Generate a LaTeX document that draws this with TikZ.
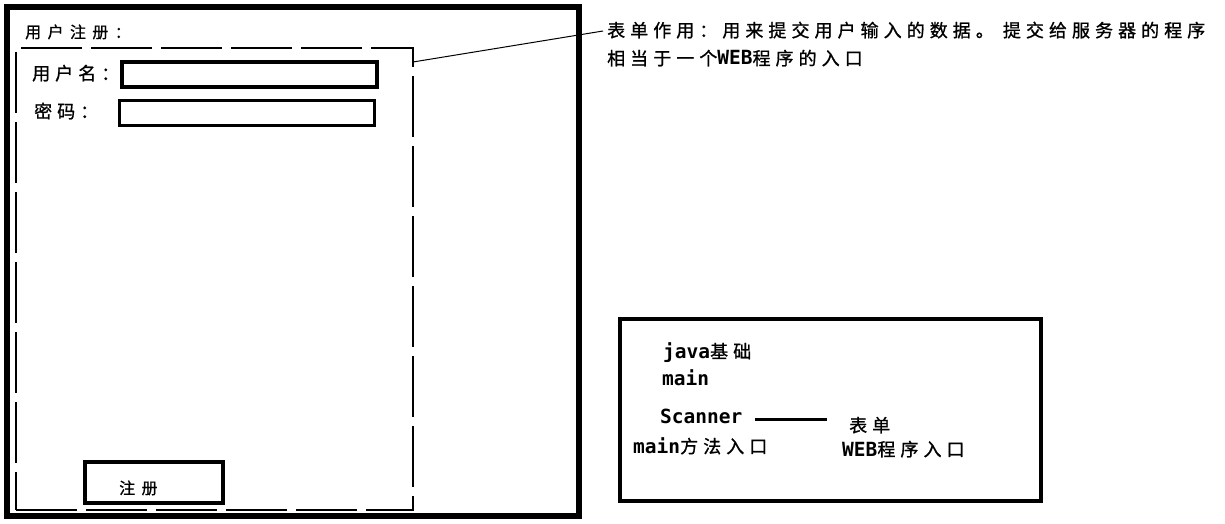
\documentclass[tikz,border=0pt]{standalone}
\usepackage{fontspec}
\newfontfamily\zhfont[LetterSpace=28,FakeBold=1]{Noto Sans CJK SC}
\newfontfamily\zhsmall[LetterSpace=40,FakeBold=1]{Noto Sans CJK SC}
\newfontfamily\enfont{DejaVu Sans Mono}
\newcommand\zhtxt[1]{{\zhfont\fontsize{18}{21}\selectfont #1}}
\newcommand\zhsm[1]{{\zhsmall\fontsize{16}{19}\selectfont #1}}
\newcommand\entxt[1]{{\enfont\bfseries\fontsize{19.5}{22}\selectfont #1}}
\tikzset{
  box/.style={draw, inner sep=0pt},
  outerframe/.style={box, line width=5.5pt},
  formframe/.style={box, line width=1.2pt, dash pattern=on 61pt off 9pt},
  field/.style={box, line width=3.3pt, minimum width=255pt, minimum height=25pt},
  thickbox/.style={box, line width=3.5pt},
  lbl/.style={anchor=base west, inner sep=0pt},
  leader/.style={line width=1pt},
  bar/.style={line width=3pt}
}
\begin{document}
\begin{tikzpicture}[x=1pt,y=-1pt]
\useasboundingbox (0,0) rectangle (1225,524);
% frames
\node[outerframe, minimum width=572pt, minimum height=509pt] (page) at (293,261.5) {};
\node[formframe, minimum width=397pt, minimum height=462pt] (form) at (214.5,279) {};
\node[field] (userbox) at (249.5,74.5) {};
\node[field] (pwbox) at (247,112.8) {};
\node[thickbox, minimum width=138pt, minimum height=41pt] (btn) at (154,482.5) {};
\node[thickbox, minimum width=421pt, minimum height=182pt] (info) at (830.5,410) {};
% left texts
\node[lbl] (title) at (25,38) {\zhsm{用户注册：}};
\node[lbl] (user) at (32,80) {\zhtxt{用户名：}};
\node[lbl] (pw) at (34,118) {\zhtxt{密码：}};
\node[lbl] (btntext) at (119,494) {\zhsm{注册}};
% note
\node[lbl] (note1) at (607,37) {\zhtxt{表单作用：用来提交用户输入的数据。 提交给服务器的程序}};
\node[lbl] (note2) at (607,65) {\zhtxt{相当于一个}\entxt{WEB}\zhtxt{程序的入口}};
\coordinate (leadstart) at (413,62);
\coordinate (leadend) at (603,31);
\draw[leader] (leadstart) -- (leadend);
% info box texts
\node[lbl] (java) at (663,358) {\entxt{java}\zhtxt{基础}};
\node[lbl] (main1) at (662,385) {\entxt{main}};
\node[lbl] (scan) at (660,423) {\entxt{Scanner}};
\node[lbl] (form2) at (849,432) {\zhtxt{表单}};
\node[lbl] (main2) at (633,453) {\entxt{main}\zhtxt{方法入口}};
\node[lbl] (web) at (842,456) {\entxt{WEB}\zhtxt{程序入口}};
\coordinate (bara) at (755,419);
\coordinate (barb) at (827,419);
\draw[bar] (bara) -- (barb);
\end{tikzpicture}
\end{document}
